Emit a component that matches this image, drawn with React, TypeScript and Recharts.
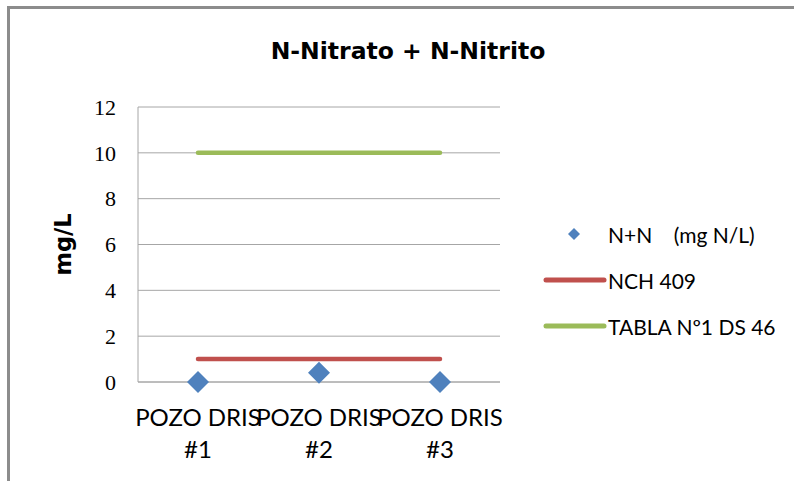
import React from "react";
import {
  ComposedChart,
  Line,
  XAxis,
  YAxis,
  CartesianGrid,
} from "recharts";

const CATEGORIES = ["POZO DRIS #1", "POZO DRIS #2", "POZO DRIS #3"];
const NN_VALUES = [0, 0.4, 0];
const NCH_409 = [1, 1, 1];
const TABLA_DS46 = [10, 10, 10];
const Y_TICKS = [0, 2, 4, 6, 8, 10, 12];

const SERIES = [
  { key: "nn", label: "N+N    (mg N/L)", color: "#4f81bd", kind: "marker" },
  { key: "nch", label: "NCH 409", color: "#c0504d", kind: "line" },
  { key: "tabla", label: "TABLA Nº1 DS 46", color: "#9bbb59", kind: "line" },
];

const data = CATEGORIES.map((name, i) => ({
  name,
  nn: NN_VALUES[i],
  nch: NCH_409[i],
  tabla: TABLA_DS46[i],
}));

const SANS = "Lato, 'Liberation Sans', sans-serif";
const WIDE = "'DejaVu Sans', sans-serif";

function Diamond(props: any) {
  const { cx, cy, fill } = props;
  if (cx == null || cy == null) return null;
  const r = 11;
  return (
    <polygon
      points={`${cx},${cy - r} ${cx + r},${cy} ${cx},${cy + r} ${cx - r},${cy}`}
      fill={fill}
    />
  );
}

function CategoryTick(props: any) {
  const { x, y, payload } = props;
  const [first, second] = String(payload.value).split(" #");
  return (
    <g transform={`translate(${x},${y})`}>
      <text textAnchor="middle" fontFamily={SANS} fontSize={24} fill="#000">
        <tspan x={0} dy={36}>{first}</tspan>
        <tspan x={0} dy={32}>#{second}</tspan>
      </text>
    </g>
  );
}

function LegendBox() {
  return (
    <div style={{ fontFamily: SANS, fontSize: 21, color: "#000" }}>
      {SERIES.map((s) => (
        <div key={s.key} style={{ display: "flex", alignItems: "center", height: 46 }}>
          <svg width={64} height={20} style={{ marginRight: 1 }}>
            {s.kind === "marker" ? (
              <polygon points="31,4 37,10 31,16 25,10" fill={s.color} />
            ) : (
              <line x1={3} y1={10} x2={61} y2={10} stroke={s.color} strokeWidth={5} strokeLinecap="round" />
            )}
          </svg>
          <span style={{ whiteSpace: "pre" }}>{s.label}</span>
        </div>
      ))}
    </div>
  );
}

export default function App() {
  return (
    <div style={{ position: "absolute", left: 0, top: 0, width: 794, height: 481, background: "#fff", overflow: "hidden" }}>
      <div
        style={{
          position: "absolute",
          left: 7,
          top: 6,
          width: 794,
          height: 481,
          borderTop: "3px solid #8c8c8c",
          borderLeft: "3px solid #8c8c8c",
        }}
      />
      <div
        style={{
          position: "absolute",
          left: 0,
          width: 816,
          top: 37,
          textAlign: "center",
          fontFamily: WIDE,
          fontWeight: 700,
          fontSize: 23.5,
        }}
      >
        N-Nitrato + N-Nitrito
      </div>
      <div style={{ position: "absolute", left: 0, top: 0 }}>
        <ComposedChart
          width={794}
          height={481}
          data={data}
          margin={{ top: 107, right: 294, left: 0, bottom: 0 }}
        >
          <CartesianGrid vertical={false} stroke="#a6a6a6" strokeWidth={1} />
          <XAxis
            dataKey="name"
            height={99}
            padding={{ left: 60, right: 60 }}
            axisLine={{ stroke: "#a6a6a6" }}
            tickLine={false}
            tick={<CategoryTick />}
            interval={0}
          />
          <YAxis
            width={138}
            domain={[0, 12]}
            ticks={Y_TICKS}
            axisLine={{ stroke: "#a6a6a6" }}
            tickLine={false}
            tickSize={0}
            tickMargin={22}
            tick={{ fontFamily: "'Liberation Serif', serif", fontSize: 22, fill: "#000" }}
            label={{
              value: "mg/L",
              angle: -90,
              position: "insideLeft",
              offset: 63,
              style: { fontFamily: WIDE, fontWeight: 700, fontSize: 22.5, fill: "#000", textAnchor: "middle" },
            }}
          />
          <Line
            dataKey="tabla"
            stroke="#9bbb59"
            strokeWidth={4.5}
            strokeLinecap="round"
            dot={false}
            activeDot={false}
            isAnimationActive={false}
          />
          <Line
            dataKey="nch"
            stroke="#c0504d"
            strokeWidth={4.5}
            strokeLinecap="round"
            dot={false}
            activeDot={false}
            isAnimationActive={false}
          />
          <Line
            dataKey="nn"
            stroke="none"
            fill="#4f81bd"
            dot={<Diamond fill="#4f81bd" />}
            activeDot={false}
            isAnimationActive={false}
          />
        </ComposedChart>
      </div>
      <div style={{ position: "absolute", left: 543, top: 211, width: 250 }}>
        <LegendBox />
      </div>
    </div>
  );
}
